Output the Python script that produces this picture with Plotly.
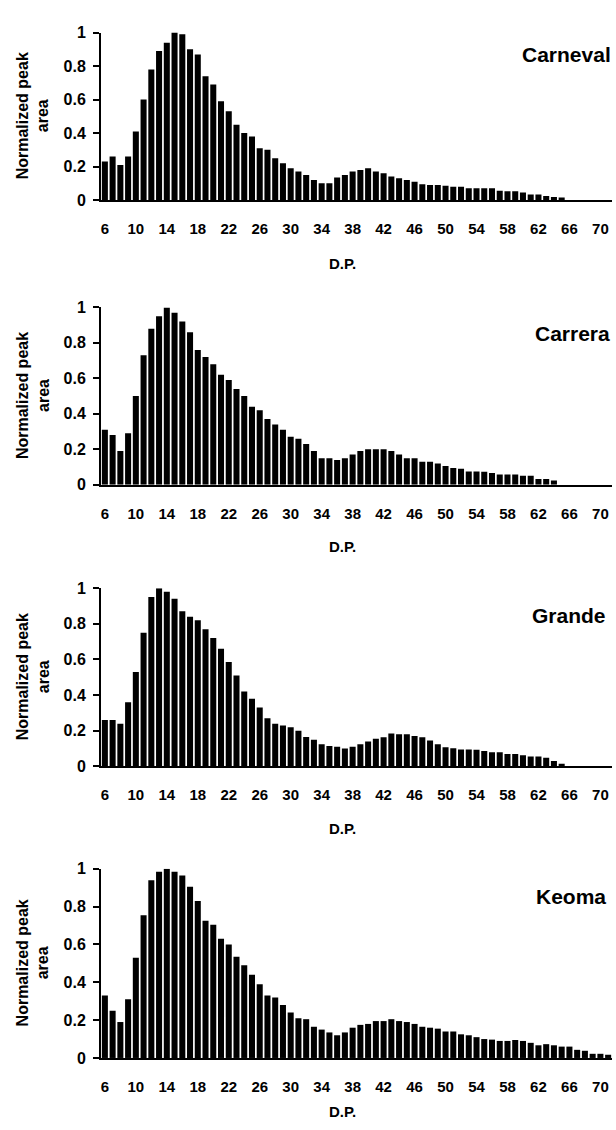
import plotly.graph_objects as go

W, H = 616, 1130

dp = list(range(6, 72))

carneval = [0.23, 0.26, 0.21, 0.26, 0.41, 0.60, 0.78, 0.89, 0.94, 1.00,
            0.99, 0.90, 0.87, 0.74, 0.69, 0.59, 0.53, 0.45, 0.40, 0.38,
            0.31, 0.30, 0.25, 0.22, 0.19, 0.17, 0.15, 0.12, 0.10, 0.10,
            0.135, 0.15, 0.17, 0.18, 0.19, 0.17, 0.16, 0.14, 0.13, 0.12,
            0.11, 0.095, 0.09, 0.09, 0.085, 0.08, 0.08, 0.07, 0.07, 0.07,
            0.07, 0.055, 0.053, 0.053, 0.045, 0.033, 0.033, 0.025, 0.018, 0.016,
            0, 0, 0, 0, 0, 0]

carrera = [0.31, 0.28, 0.19, 0.29, 0.50, 0.73, 0.88, 0.95, 1.00, 0.97,
           0.92, 0.86, 0.76, 0.72, 0.68, 0.62, 0.59, 0.54, 0.50, 0.44,
           0.42, 0.37, 0.34, 0.31, 0.27, 0.26, 0.23, 0.19, 0.15, 0.15,
           0.14, 0.15, 0.17, 0.19, 0.20, 0.20, 0.20, 0.19, 0.17, 0.15,
           0.15, 0.13, 0.13, 0.12, 0.105, 0.095, 0.09, 0.075, 0.075, 0.073,
           0.066, 0.058, 0.058, 0.058, 0.05, 0.05, 0.032, 0.032, 0.024,
           0, 0, 0, 0, 0, 0, 0]

grande = [0.26, 0.26, 0.24, 0.36, 0.53, 0.75, 0.95, 1.00, 0.98, 0.94,
          0.87, 0.84, 0.82, 0.77, 0.72, 0.66, 0.585, 0.51, 0.42, 0.38,
          0.33, 0.27, 0.24, 0.23, 0.22, 0.20, 0.165, 0.15, 0.125, 0.115,
          0.11, 0.10, 0.11, 0.125, 0.14, 0.155, 0.163, 0.185, 0.18, 0.18,
          0.17, 0.163, 0.146, 0.124, 0.108, 0.102, 0.095, 0.095, 0.093, 0.086,
          0.079, 0.079, 0.07, 0.07, 0.062, 0.055, 0.055, 0.048, 0.03, 0.015,
          0, 0, 0, 0, 0, 0]

keoma = [0.33, 0.25, 0.19, 0.31, 0.53, 0.755, 0.94, 0.985, 1.00, 0.985,
         0.965, 0.905, 0.83, 0.725, 0.705, 0.63, 0.60, 0.535, 0.49, 0.44,
         0.39, 0.33, 0.32, 0.28, 0.24, 0.21, 0.205, 0.165, 0.15, 0.135,
         0.12, 0.135, 0.16, 0.175, 0.18, 0.195, 0.195, 0.205, 0.195, 0.19,
         0.18, 0.165, 0.16, 0.155, 0.14, 0.14, 0.125, 0.12, 0.11, 0.10,
         0.097, 0.09, 0.09, 0.095, 0.09, 0.08, 0.067, 0.073, 0.067, 0.06,
         0.06, 0.043, 0.038, 0.022, 0.022, 0.017]

cultivars = ["Carneval", "Carrera", "Grande", "Keoma"]
series = [carneval, carrera, grande, keoma]

yticks = [0, 0.2, 0.4, 0.6, 0.8, 1]
yticktext = ["0", "0.2", "0.4", "0.6", "0.8", "1"]

# panel geometry in window pixels: (y of value 1, y of value 0)
panels = [(25, 195), (304, 484), (589, 770), (874, 1066)]
label_pos = [(613, 47), (612, 330), (608, 617), (608, 902)]
dp_label_y = [259, 547, 833, 1120]

FONT = "Liberation Sans, Arial, sans-serif"

def fx(px):
    return px / W

def fy(py):
    return 1 - py / H

fig = go.Figure()
annotations = []
layout = dict(
    width=W, height=H,
    margin=dict(l=0, r=0, t=0, b=0),
    paper_bgcolor="white", plot_bgcolor="white",
    showlegend=False, bargap=0.22,
    font=dict(family=FONT, size=15, color="black", weight="bold"),
)

for i, (name, vals) in enumerate(zip(cultivars, series)):
    n = "" if i == 0 else str(i + 1)
    fig.add_trace(go.Bar(x=dp, y=vals, marker=dict(color="black", line=dict(width=0)),
                         xaxis="x" + n, yaxis="y" + n, hoverinfo="x+y"))
    top, bot = panels[i]
    layout["xaxis" + n] = dict(
        domain=[fx(101), fx(612)], anchor="y" + n,
        range=[5.5, 71.5], tick0=6, dtick=4, tickmode="linear",
        showline=True, linecolor="black", linewidth=2,
        ticks="", showgrid=False, zeroline=False,
        ticklabelstandoff=14,
        tickfont=dict(family=FONT, size=15, color="black", weight="bold"),
    )
    layout["yaxis" + n] = dict(
        domain=[fy(bot), fy(top)], anchor="x" + n,
        range=[0, 1], tickvals=yticks, ticktext=yticktext,
        showline=True, linecolor="black", linewidth=2,
        ticks="outside", ticklen=6, tickwidth=1.5, tickcolor="black",
        showgrid=False, zeroline=False, ticklabelstandoff=4,
        tickfont=dict(family=FONT, size=16, color="black", weight="bold"),
    )
    lx, ly = label_pos[i]
    annotations.append(dict(
        text=name, xref="paper", yref="paper", x=fx(lx), y=fy(ly),
        xanchor="right", yanchor="middle", showarrow=False,
        font=dict(family=FONT, size=21, color="black", weight="bold"),
    ))
    annotations.append(dict(
        text="Normalized peak<br>area", xref="paper", yref="paper",
        x=fx(33), y=fy((top + bot) / 2), xanchor="center", yanchor="middle",
        textangle=-90, showarrow=False,
        font=dict(family=FONT, size=16, color="black", weight="bold"),
    ))
    annotations.append(dict(
        text="D.P.", xref="paper", yref="paper", x=fx(342), y=fy(dp_label_y[i]),
        xanchor="center", yanchor="middle", showarrow=False,
        font=dict(family=FONT, size=15, color="black", weight="bold"),
    ))

layout["annotations"] = annotations
fig.update_layout(**layout)
# remove the page's default body margin so the figure fills the window exactly
fig.write_html("out.html",
               config={"displayModeBar": False},
               post_script="document.body.style.margin='0';document.body.style.overflow='hidden';")
